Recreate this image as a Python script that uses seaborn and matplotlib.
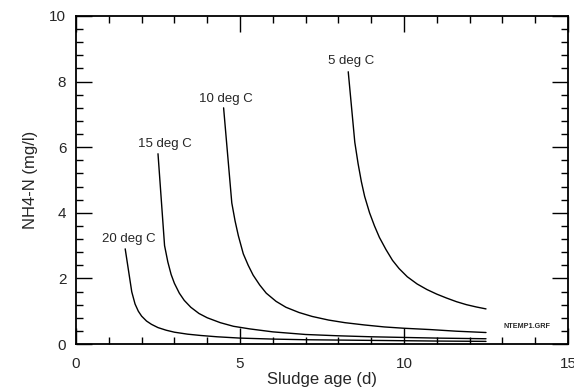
import pandas as pd
import matplotlib
matplotlib.use('Agg')
import matplotlib.pyplot as plt
from matplotlib.ticker import MultipleLocator
import seaborn as sns

# NH4-N vs sludge age
age_20 = [1.5, 1.7, 1.8, 1.9, 2.0, 2.15, 2.3, 2.5, 2.75, 3.0, 3.4, 3.8, 4.3, 5.0, 6.0, 7.0, 8.0, 9.0, 10.0, 11.0, 12.5]
nh4_20 = [2.9, 1.59, 1.22, 1.0, 0.85, 0.70, 0.60, 0.50, 0.42, 0.36, 0.30, 0.26, 0.22, 0.18, 0.15, 0.13, 0.12, 0.11, 0.10, 0.09, 0.08]

age_15 = [2.5, 2.7, 2.8, 2.9, 3.0, 3.15, 3.3, 3.5, 3.75, 4.0, 4.4, 4.8, 5.3, 6.0, 7.0, 8.0, 9.0, 10.0, 11.0, 12.5]
nh4_15 = [5.8, 3.0, 2.5, 2.12, 1.85, 1.55, 1.33, 1.12, 0.93, 0.80, 0.65, 0.54, 0.46, 0.37, 0.29, 0.25, 0.22, 0.20, 0.18, 0.16]

age_10 = [4.5, 4.75, 4.85, 4.95, 5.1, 5.25, 5.4, 5.6, 5.8, 6.1, 6.4, 6.8, 7.2, 7.7, 8.2, 8.8, 9.4, 10.0, 10.8, 11.6, 12.5]
nh4_10 = [7.2, 4.3, 3.75, 3.3, 2.75, 2.4, 2.1, 1.8, 1.55, 1.3, 1.12, 0.96, 0.84, 0.73, 0.65, 0.58, 0.52, 0.48, 0.44, 0.39, 0.35]

age_5 = [8.3, 8.5, 8.6, 8.7, 8.8, 8.95, 9.1, 9.25, 9.45, 9.65, 9.85, 10.1, 10.4, 10.7, 11.0, 11.3, 11.6, 11.9, 12.2, 12.5]
nh4_5 = [8.3, 6.15, 5.5, 4.95, 4.5, 4.0, 3.6, 3.25, 2.88, 2.55, 2.3, 2.05, 1.83, 1.66, 1.52, 1.4, 1.29, 1.2, 1.13, 1.07]

labels = ['20 deg C', '15 deg C', '10 deg C', '5 deg C']
label_x = [1.6, 2.71, 4.57, 8.4]
label_y = [3.02, 5.92, 7.29, 8.46]

frames = []
for lab, xs, ys in zip(labels, [age_20, age_15, age_10, age_5], [nh4_20, nh4_15, nh4_10, nh4_5]):
    frames.append(pd.DataFrame({'age': xs, 'nh4': ys, 'temp': lab}))
df = pd.concat(frames, ignore_index=True)

sns.set_style('ticks')
plt.rcParams['font.family'] = ['Liberation Sans', 'DejaVu Sans']

fig = plt.figure(figsize=(5.74, 3.91), dpi=100)
ax = fig.add_axes([76 / 574, 1 - 344 / 391, 492 / 574, 328 / 391])

sns.lineplot(data=df, x='age', y='nh4', hue='temp', units='temp', estimator=None,
             sort=False, palette=['black'] * 4, linewidth=1.0, legend=False, ax=ax)

for lab, lx, ly in zip(labels, label_x, label_y):
    ax.text(lx, ly, lab, fontsize=9.5, ha='center', va='bottom')

ax.text(13.75, 0.53, 'NTEMP1.GRF', fontsize=5.2, fontweight='bold', ha='center', va='center')

ax.set_xlim(0, 15)
ax.set_ylim(0, 10)
ax.xaxis.set_major_locator(MultipleLocator(5))
ax.xaxis.set_minor_locator(MultipleLocator(1))
ax.yaxis.set_major_locator(MultipleLocator(2))
ax.yaxis.set_minor_locator(MultipleLocator(0.4))
ax.tick_params(which='both', direction='in', top=True, right=True, width=1.0, color='black')
ax.tick_params(which='major', length=11.5, labelsize=11, pad=7)
ax.tick_params(axis='x', which='major', pad=9)
ax.tick_params(which='minor', length=5)
for sp in ax.spines.values():
    sp.set_linewidth(1.3)
    sp.set_color('black')

ax.set_xlabel('Sludge age (d)', fontsize=12, labelpad=1)
ax.set_ylabel('NH4-N (mg/l)', fontsize=12, labelpad=8)

fig.savefig('out.png', dpi=100)
